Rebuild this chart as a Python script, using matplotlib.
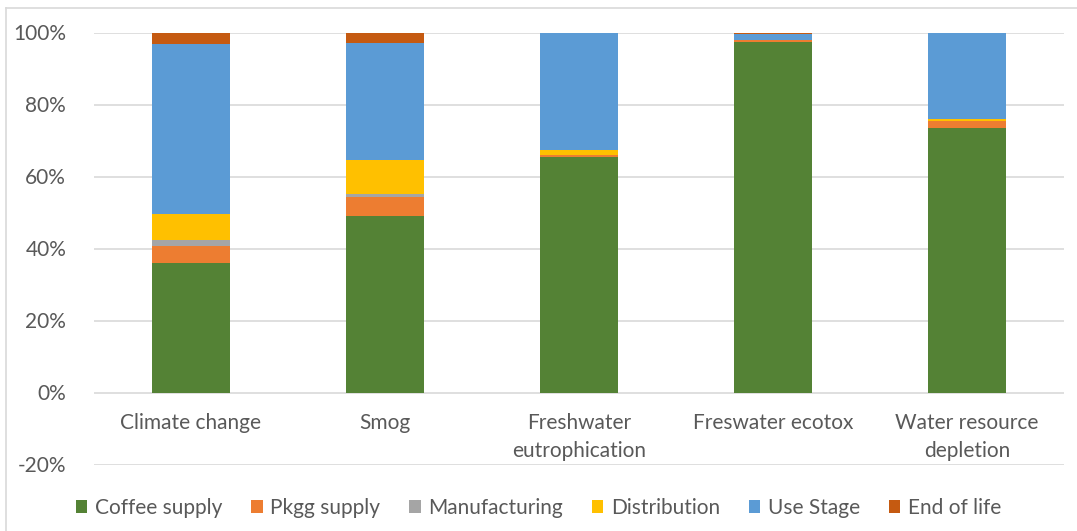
import numpy as np
import matplotlib.pyplot as plt
from matplotlib.lines import Line2D
from matplotlib.patches import Patch

plt.rcParams['font.family'] = ['Lato', 'DejaVu Sans']

categories = ["Climate change", "Smog", "Freshwater\neutrophication", "Freswater ecotox", "Water resource\ndepletion"]
stages = ["Coffee supply", "Pkgg supply", "Manufacturing", "Distribution", "Use Stage", "End of life"]
colors = ["#548235", "#ED7D31", "#A5A5A5", "#FFC000", "#5B9BD5", "#C55A11"]

coffee_supply = [36.1, 49.0, 65.4, 97.5, 73.5]
pkgg_supply = [4.7, 5.3, 0.6, 0.3, 1.9]
manufacturing = [1.7, 0.9, 0.1, 0.0, 0.1]
distribution = [7.1, 9.4, 1.2, 0.2, 0.6]
use_stage = [47.3, 32.4, 32.7, 1.7, 23.8]
end_of_life = [3.1, 3.0, 0.0, 0.3, 0.1]

series = [coffee_supply, pkgg_supply, manufacturing, distribution, use_stage, end_of_life]

fig = plt.figure(figsize=(10.77, 5.31), dpi=100)
ax = fig.add_axes([94 / 1077, 1 - 464.5 / 531, 970 / 1077, 432 / 531])

x = np.arange(len(categories))
bottom = np.zeros(len(categories))
for name, vals, c in zip(stages, series, colors):
    ax.bar(x, vals, width=0.4, bottom=bottom, color=c, label=name, zorder=2)
    bottom += np.array(vals)

ax.set_xlim(-0.5, len(categories) - 0.5)
ax.set_ylim(-20, 100)
ax.set_yticks(range(-20, 101, 20))
ax.set_yticklabels([f"{v}%" for v in range(-20, 101, 20)], fontsize=15, color="#595959")
ax.tick_params(axis="y", length=0, pad=20)
ax.yaxis.grid(True, color="#D9D9D9", linewidth=1.2, zorder=0)
for s in ax.spines.values():
    s.set_visible(False)
ax.set_xticks([])

for xi, lab in zip(x, categories):
    ax.text(xi, -5.6, lab, ha="center", va="top", fontsize=15, color="#595959", linespacing=1.55)

handles = [Patch(facecolor=c, label=n) for n, c in zip(stages, colors)]
fig.legend(handles=handles, loc="center", bbox_to_anchor=(0.5, 1 - 508 / 531), ncol=6,
           frameon=False, fontsize=15, labelcolor="#595959", handlelength=0.55, handleheight=0.55,
           handletextpad=0.35, columnspacing=1.4)

fig.add_artist(Line2D([6 / 1077, 6 / 1077], [0, 1 - 8 / 531], color="#D9D9D9", linewidth=1.2))
fig.add_artist(Line2D([6 / 1077, 1], [1 - 8 / 531, 1 - 8 / 531], color="#D9D9D9", linewidth=1.2))

plt.savefig("out.png", dpi=100)
